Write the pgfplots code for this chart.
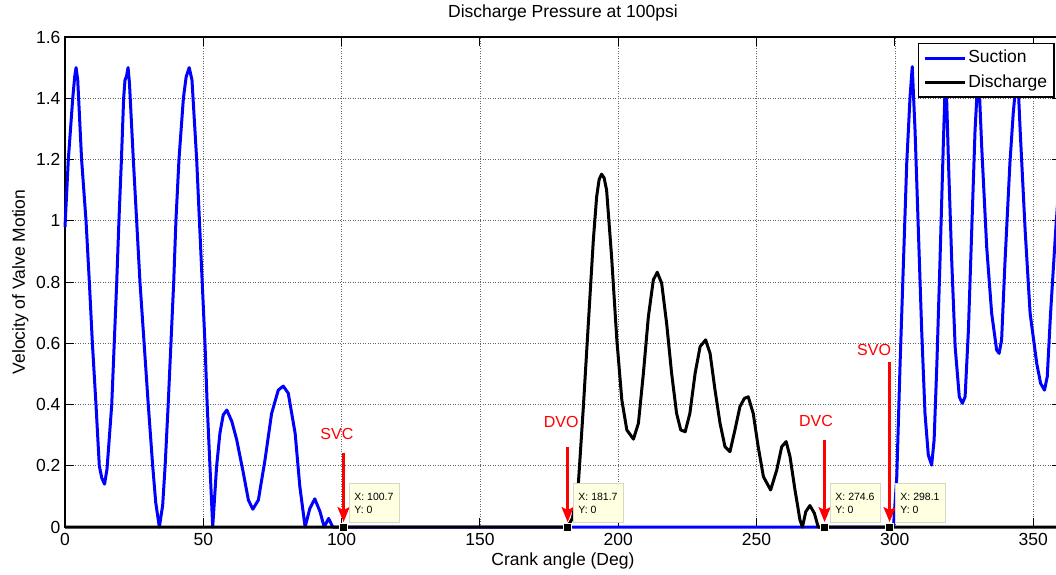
\documentclass[border=0pt]{standalone}
\usepackage{pgfplots}
\pgfplotsset{compat=1.18}
\usepackage{fontspec}
\setmainfont{Liberation Sans}
\usetikzlibrary{arrows.meta}
\definecolor{tipfill}{RGB}{255,255,225}
\definecolor{tipdraw}{RGB}{215,215,195}
\definecolor{gridgray}{RGB}{100,100,100}
\begin{document}
\begin{tikzpicture}
\begin{axis}[
  at={(0,0)}, anchor=south west,
  scale only axis,
  width=995.8pt, height=490pt,
  xmin=0, xmax=360, ymin=0, ymax=1.6,
  clip=false,
  xtick={0,50,100,150,200,250,300,350},
  ytick={0,0.2,0.4,0.6,0.8,1,1.2,1.4,1.6},
  /pgf/number format/assume math mode=true,
  tick label style={font=\fontsize{17.5}{21}\selectfont},
  yticklabel style={xshift=-1pt},
  xticklabel style={yshift=-3pt},
  major tick length=9pt,
  tick align=inside,
  tick style={black, line width=1pt},
  axis line style={line width=1.6pt},
  grid=major,
  major grid style={gridgray, line width=0.6pt, dash pattern=on 1pt off 1.5pt},
  title={Discharge Pressure at 100psi},
  title style={at={(axis description cs:0.5,1)}, anchor=base, yshift=13.7pt, font=\fontsize{17.5}{21}\selectfont},
  xlabel={Crank angle (Deg)},
  xlabel style={at={(axis description cs:0.5,0)}, anchor=base, yshift=-38pt, font=\fontsize{17.5}{21}\selectfont},
  ylabel={Velocity of Valve Motion},
  ylabel style={at={([xshift=-40pt]axis description cs:0,0.5)}, anchor=base, font=\fontsize{17.5}{21}\selectfont},
  legend style={at={(1,1)}, anchor=north east, xshift=-6pt, yshift=-6pt,
    draw=black, line width=1.5pt, fill=white,
    font=\fontsize{17.5}{21}\selectfont,
    inner xsep=5pt, inner ysep=4pt, row sep=3.5pt,
    nodes={inner sep=2pt, text height=13pt, text depth=4pt}},
  legend cell align=left,
  legend image code/.code={\draw[#1] (0pt,0pt) -- (40pt,0pt);},
]
\addplot[blue, line width=3pt, line join=round] coordinates {
(0,0.98) (1.2,1.2) (2.8,1.4) (3.5,1.47) (4,1.5) (4.6,1.46) (6.0,1.2) (7.6,1.0) (8.8,0.8) (9.9,0.6) (11.2,0.4) (12.4,0.2) (13.3,0.16) (14.3,0.14) (15.2,0.19) (16.9,0.4) (17.8,0.6) (18.7,0.8) (19.5,1.0) (20.4,1.2) (21.2,1.4) (21.7,1.46) (22.2,1.47) (22.8,1.5) (23.3,1.45) (24.7,1.2) (25.9,1.0) (27.1,0.8) (28.6,0.6) (30.1,0.4) (31.7,0.2) (32.8,0.08) (34.1,0) (35.3,0.07) (36.2,0.2) (37.3,0.4) (38.3,0.6) (39.3,0.8) (40.1,1.0) (41.2,1.2) (42.8,1.4) (43.8,1.47) (44.9,1.5) (45.9,1.46) (47.6,1.2) (48.6,1.0) (49.6,0.8) (50.6,0.6) (51.4,0.4) (52.4,0.2) (53.4,0) (54.8,0.197) (56.0,0.306) (57.2,0.366) (58.5,0.382) (60.3,0.345) (62.1,0.284) (64.5,0.175) (66.3,0.088) (67.9,0.058) (69.9,0.088) (72.3,0.219) (74.7,0.371) (77.1,0.447) (78.9,0.46) (80.7,0.437) (83.2,0.306) (84.9,0.132) (86.8,0) (88.5,0.06) (90.3,0.092) (92.2,0.05) (93.7,0) (95.3,0.028) (96.8,0) (100.7,0) (200,0) (299.5,0) (300.7,0.164) (301.9,0.534) (303.1,0.861) (304.3,1.188) (305.5,1.405) (306.3,1.503) (307.3,1.296) (308.5,0.97) (309.7,0.643) (310.9,0.371) (312.1,0.235) (313.3,0.202) (314.2,0.284) (315.2,0.534) (316.3,0.861) (317.5,1.242) (318.4,1.5) (319.4,1.188) (320.6,0.861) (321.8,0.589) (323.3,0.425) (324.4,0.404) (325.4,0.425) (326.6,0.643) (327.8,0.97) (329.0,1.296) (330.2,1.5) (331.4,1.242) (333.2,0.915) (335.0,0.698) (336.8,0.578) (337.7,0.567) (338.6,0.611) (339.8,0.861) (341.6,1.188) (342.8,1.351) (344.3,1.5) (345.3,1.296) (347.1,0.97) (348.9,0.698) (351.3,0.534) (352.7,0.469) (354.1,0.447) (355.1,0.491) (356.3,0.698) (358.3,0.99) (360,1.2)
};
\addlegendentry{Suction}
\addplot[black, line width=3pt, line join=round] coordinates {
(0,0) (181.7,0) (183.5,0.03) (185.6,0.143) (187.4,0.393) (189.2,0.665) (191.0,0.937) (192.2,1.079) (193.1,1.135) (194.0,1.152) (194.9,1.14) (195.8,1.1) (197.6,0.883) (199.5,0.611) (201.3,0.415) (203.1,0.317) (205.5,0.287) (207.3,0.339) (209.1,0.502) (210.9,0.687) (212.7,0.807) (214.1,0.832) (215.7,0.796) (217.5,0.665) (219.3,0.502) (221.1,0.371) (222.6,0.317) (224.2,0.311) (225.9,0.371) (227.8,0.502) (229.6,0.589) (231.6,0.611) (233.2,0.567) (235.0,0.447) (236.8,0.339) (238.6,0.262) (240.4,0.246) (242.2,0.317) (244.0,0.393) (245.6,0.42) (247.0,0.425) (248.8,0.371) (250.6,0.262) (252.5,0.164) (255.1,0.121) (257.3,0.186) (259.1,0.262) (260.7,0.279) (262.1,0.23) (263.9,0.121) (265.7,0.023) (266.6,0) (267.8,0.05) (269.3,0.07) (270.9,0.045) (272.3,0) (360,0)
};
\addlegendentry{Discharge}
% annotation arrows and labels
\draw[red, line width=2.5pt, -{Stealth[length=15pt,width=12pt,inset=3pt]}] (axis cs:100.7,0.242) -- (axis cs:100.7,0.016);
\draw[red, line width=2.5pt, -{Stealth[length=15pt,width=12pt,inset=3pt]}] (axis cs:181.7,0.262) -- (axis cs:181.7,0.016);
\draw[red, line width=2.5pt, -{Stealth[length=15pt,width=12pt,inset=3pt]}] (axis cs:274.6,0.284) -- (axis cs:274.6,0.016);
\draw[red, line width=2.5pt, -{Stealth[length=15pt,width=12pt,inset=3pt]}] (axis cs:298.1,0.540) -- (axis cs:298.1,0.016);
\node[text=red, font=\fontsize{16}{19}\selectfont] at (axis cs:98.3,0.304) {SVC};
\node[text=red, font=\fontsize{16}{19}\selectfont] at (axis cs:179.4,0.344) {DVO};
\node[text=red, font=\fontsize{16}{19}\selectfont] at (axis cs:271.5,0.346) {DVC};
\node[text=red, font=\fontsize{16}{19}\selectfont] at (axis cs:292.5,0.578) {SVO};
% data tip markers
\addplot[forget plot, only marks, mark=square*, mark size=4pt, mark options={fill=black, draw=tipfill, line width=1pt}] coordinates {(100.7,0) (181.7,0) (274.6,0) (298.1,0)};
% data tip boxes
\node[anchor=south west, draw=tipdraw, fill=tipfill, line width=0.8pt, minimum width=50pt, minimum height=39pt, inner xsep=5pt, align=left, font=\fontsize{10.5}{13}\selectfont] at ([xshift=5pt,yshift=4pt]axis cs:100.7,0) {X: 100.7\\Y: 0};
\node[anchor=south west, draw=tipdraw, fill=tipfill, line width=0.8pt, minimum width=50pt, minimum height=39pt, inner xsep=5pt, align=left, font=\fontsize{10.5}{13}\selectfont] at ([xshift=5pt,yshift=4pt]axis cs:181.7,0) {X: 181.7\\Y: 0};
\node[anchor=south west, draw=tipdraw, fill=tipfill, line width=0.8pt, minimum width=50pt, minimum height=39pt, inner xsep=5pt, align=left, font=\fontsize{10.5}{13}\selectfont] at ([xshift=5pt,yshift=4pt]axis cs:274.6,0) {X: 274.6\\Y: 0};
\node[anchor=south west, draw=tipdraw, fill=tipfill, line width=0.8pt, minimum width=50pt, minimum height=39pt, inner xsep=5pt, align=left, font=\fontsize{10.5}{13}\selectfont] at ([xshift=5pt,yshift=4pt]axis cs:298.1,0) {X: 298.1\\Y: 0};
\end{axis}
\pgfresetboundingbox
\useasboundingbox (-65pt,-47pt) rectangle (991pt,527pt);
\end{tikzpicture}
\end{document}
